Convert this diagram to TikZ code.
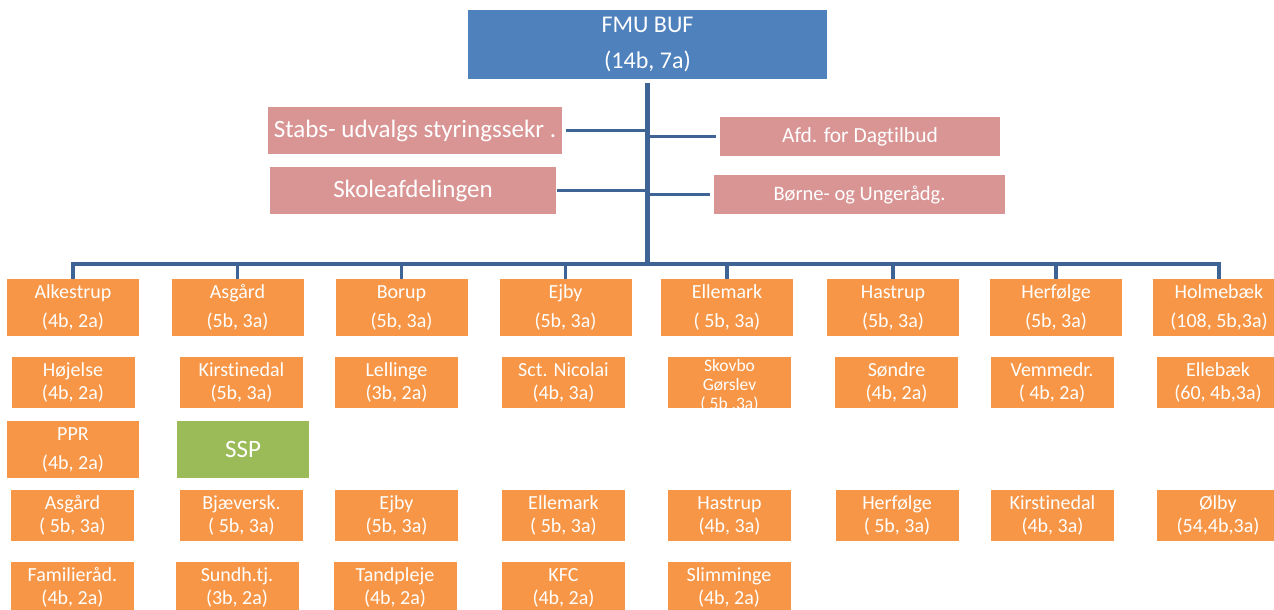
\documentclass[tikz,border=0pt]{standalone}
\usepackage{fontspec}
\setmainfont{Carlito}[Ligatures=NoCommon]
\definecolor{bufblue}{RGB}{79,129,189}
\definecolor{linkblue}{RGB}{62,100,150}
\definecolor{staffpink}{RGB}{217,149,148}
\definecolor{unitorange}{RGB}{247,150,70}
\definecolor{sspgreen}{RGB}{155,187,89}
\tikzset{
  box/.style={inner sep=0pt,outer sep=0pt,text=white,align=center},
  unit/.style={box,fill=unitorange,minimum width=123pt,minimum height=51pt,
    font=\fontsize{20}{23}\selectfont},
  school/.style={unit,minimum width=132pt,minimum height=57pt,
    font=\fontsize{20}{29}\selectfont},
  staff/.style={box,fill=staffpink},
  link/.style={draw=linkblue,line width=3.3pt},
}
\begin{document}
\begin{tikzpicture}[x=1pt,y=-1pt]
 \clip (0,0) rectangle (1274,610);
 \node[box,fill=bufblue,minimum width=359pt,minimum height=69pt,
   font=\fontsize{24}{36}\selectfont,name=fmu] at (647.5,44.5) {FMU BUF\\(14b, 7a)};
 \coordinate (bus) at (647.5,264);
 % staff offices
 \node[staff,minimum width=294pt,minimum height=47pt,font=\fontsize{25}{30}\selectfont,
   name=stabs] at (415,130.5) {Stabs- udvalgs styringssekr .};
 \node[staff,minimum width=286pt,minimum height=47pt,font=\fontsize{25}{30}\selectfont,
   name=skole] at (413,190.5) {Skoleafdelingen};
 \node[staff,minimum width=280pt,minimum height=39pt,font=\fontsize{21.5}{26}\selectfont,
   name=afd] at (860,136.5) {Afd. for Dagtilbud};
 \node[staff,minimum width=291pt,minimum height=39pt,font=\fontsize{20.5}{25}\selectfont,
   name=boerne] at (859.5,194.5) {Børne- og Ungerådg.};
 % schools
 \foreach \i/\x/\t in {1/73/{Alkestrup\\(4b, 2a)},2/237.5/{Asgård\\(5b, 3a)},
   3/401.5/{Borup\\(5b, 3a)},4/565.5/{Ejby\\(5b, 3a)},5/727/{Ellemark\\( 5b, 3a)},
   6/893/{Hastrup\\(5b, 3a)},7/1056/{Herfølge\\(5b, 3a)},8/1219/{Holmebæk\\(108, 5b,3a)}} {
    \node[school,name=s\i] at (\x,307.5) {\t};
 }
 \foreach \i/\x/\t in {1/73/{Højelse\\(4b, 2a)},2/241.5/{Kirstinedal\\(5b, 3a)},
   3/396.5/{Lellinge\\(3b, 2a)},4/563.5/{Sct. Nicolai\\(4b, 3a)},
   6/896.5/{Søndre\\(4b, 2a)},7/1052/{Vemmedr.\\( 4b, 2a)},8/1218/{Ellebæk\\(60, 4b,3a)}} {
    \node[unit,name=k\i] at (\x,382.5) {\t};
 }
 \node[unit,name=k5] at (729.5,382.5) {};
 \node[box,font=\fontsize{17.5}{19}\selectfont,name=k5text] at (729.5,385.5) {Skovbo\\Gørslev\\( 5b ,3a)};
 \node[school,name=ppr] at (73,449.5) {PPR\\(4b, 2a)};
 \node[school,fill=sspgreen,font=\fontsize{25}{30}\selectfont,name=ssp] at (243,449.5) {SSP};
 \foreach \i/\x/\t in {1/72.5/{Asgård\\( 5b, 3a)},2/241.5/{Bjæversk.\\( 5b, 3a)},
   3/396.5/{Ejby\\(5b, 3a)},4/563.5/{Ellemark\\( 5b, 3a)},5/729.5/{Hastrup\\(4b, 3a)},
   6/897/{Herfølge\\( 5b, 3a)},7/1052.5/{Kirstinedal\\(4b, 3a)},8/1218/{Ølby\\(54,4b,3a)}} {
    \node[unit,name=r\i] at (\x,515.5) {\t};
 }
 \foreach \i/\x/\t in {1/72.5/{Familieråd.\\(4b, 2a)},2/237/{Sundh.tj.\\(3b, 2a)},
   3/395/{Tandpleje\\(4b, 2a)},4/563.5/{KFC\\(4b, 2a)},5/729/{Slimminge\\(4b, 2a)}} {
    \node[unit,name=f\i] at (\x,587.5) {\t};
 }
 % lines
 \draw[link,line width=4.7pt,shorten <=4pt] (fmu.south) -- (bus);
 \draw[link,shorten <=4pt] (stabs.east) -- (stabs.east -| bus);
 \draw[link,shorten <=1pt] (skole.east) -- (skole.east -| bus);
 \draw[link,shorten >=4pt] (afd.west -| bus) -- (afd.west);
 \draw[link,shorten >=4pt] (boerne.west -| bus) -- (boerne.west);
 \draw[link,line width=4pt] (s1.north) -- (s1.north |- bus) -- (s8.north |- bus) -- (s8.north);
 \foreach \i in {2,...,7} {
    \draw[link] (s\i.north |- bus) -- (s\i.north);
 }
\end{tikzpicture}
\end{document}
